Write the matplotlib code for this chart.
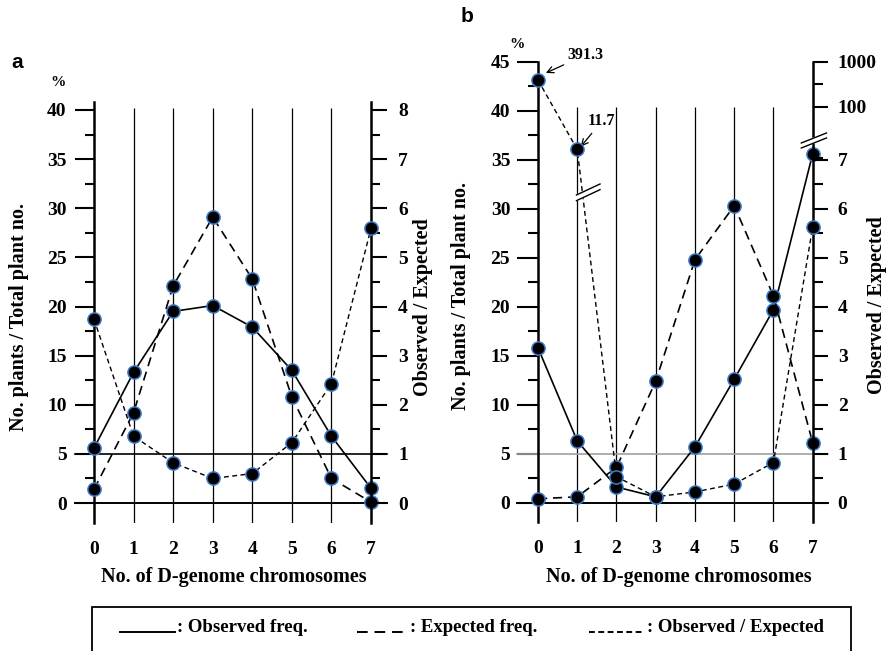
import numpy as np
import matplotlib
matplotlib.use('Agg')
import matplotlib.pyplot as plt
from matplotlib.ticker import MultipleLocator, FixedLocator, NullFormatter
from matplotlib.lines import Line2D
from matplotlib.patches import Rectangle

plt.rcParams['font.family'] = ['Liberation Serif', 'DejaVu Serif']
plt.rcParams['font.weight'] = 'bold'
plt.rcParams['axes.labelweight'] = 'bold'

W, H = 892, 651
chromosomes = [0, 1, 2, 3, 4, 5, 6, 7]

# panel a : % of plants and observed / expected ratio
obs_a = [5.6, 13.3, 19.5, 20.1, 17.9, 13.5, 6.8, 1.5]
exp_a = [1.4, 9.2, 22.1, 29.1, 22.8, 10.8, 2.5, 0.1]
ratio_a = [3.74, 1.36, 0.82, 0.50, 0.60, 1.23, 2.43, 5.59]

# panel b
obs_b = [15.8, 6.3, 1.6, 0.6, 5.7, 12.6, 19.7, 35.6]
exp_b = [0.4, 0.6, 3.6, 12.4, 24.8, 30.3, 21.1, 6.1]
ratio_b = [391.3, 11.7, 0.53, 0.12, 0.22, 0.38, 0.82, 5.63]

ratio_ticks_a = [0, 1, 2, 3, 4, 5, 6, 7, 8]
ratio_ticks_b = [0, 1, 2, 3, 4, 5, 6, 7, 100, 1000]


def box(left, top, right, bottom):
    return [left / W, 1 - bottom / H, (right - left) / W, (bottom - top) / H]


def fxy(x, y):
    return x / W, 1 - y / H


# panel a: ratio axis is the % axis divided by 5
def ratio_to_pct_a(v):
    return np.asarray(v, dtype=float) * 5


def pct_to_ratio_a(p):
    return np.asarray(p, dtype=float) / 5


# broken right axis of panel b: linear up to 7, squeezed to 100, log above
def ratio_to_pct(v):
    v = np.asarray(v, dtype=float)
    lo = 5 * v
    mid = 35 + 5.4 * np.log10(np.clip(v, 7, 100) / 7) / np.log10(100 / 7)
    hi = 40.4 + 4.6 * np.log10(np.clip(v, 100, None) / 100)
    return np.where(v <= 7, lo, np.where(v <= 100, mid, hi))


def pct_to_ratio(p):
    p = np.asarray(p, dtype=float)
    lo = p / 5
    mid = 7 * (100 / 7) ** ((np.clip(p, 35, 40.4) - 35) / 5.4)
    hi = 100 * 10 ** ((np.clip(p, 40.4, None) - 40.4) / 4.6)
    return np.where(p <= 35, lo, np.where(p <= 40.4, mid, hi))


mk = dict(marker='o', ms=9.5, mfc='black', mec='#3d7cc9', mew=1.1,
          color='black', clip_on=False, zorder=4)

fig = plt.figure(figsize=(W / 100, H / 100), dpi=100)


def style_panel(ax, ylim, vtop, major_len, minor_len, pad):
    ax.set_xlim(0, 7)
    ax.set_ylim(*ylim)
    for side in ('top', 'bottom', 'right'):
        ax.spines[side].set_visible(False)
    ax.spines['left'].set_linewidth(1.8)
    ax.set_xticks(chromosomes)
    ax.tick_params(axis='x', length=0, pad=13, labelsize=14)
    ax.yaxis.set_major_locator(MultipleLocator(5))
    ax.yaxis.set_minor_locator(MultipleLocator(2.5))
    ax.tick_params(axis='y', which='major', direction='out', length=major_len,
                   width=1.5, pad=pad, labelsize=14)
    ax.tick_params(axis='y', which='minor', direction='out', length=minor_len, width=1.5)
    ax.vlines(chromosomes[1:-1], ylim[0], vtop, color='black', lw=0.9)


def style_twin(ax2, major_len, minor_len, pad):
    for side in ('top', 'bottom', 'left'):
        ax2.spines[side].set_visible(False)
    ax2.spines['right'].set_linewidth(1.8)
    ax2.tick_params(axis='y', which='major', direction='out', length=major_len,
                    width=1.5, pad=pad, labelsize=14)
    ax2.tick_params(axis='y', which='minor', direction='out', length=minor_len, width=1.5)


def draw_break(ax2, trans, xc, yc, hw, rise, gap):
    xs = [xc - hw, xc + hw]
    lower = [yc - gap / 2 - rise, yc - gap / 2 + rise]
    upper = [yc + gap / 2 - rise, yc + gap / 2 + rise]
    ax2.fill([xs[0], xs[1], xs[1], xs[0]], [lower[0], lower[1], upper[1], upper[0]],
             color='white', transform=trans, zorder=6, clip_on=False)
    for ys in (lower, upper):
        ax2.plot(xs, ys, color='black', lw=1.0, transform=trans, zorder=7, clip_on=False)


# ---------------- panel a ----------------
ya = (-2.03, 40.81)
ax_a = fig.add_axes(box(94, 102, 371, 523))
style_panel(ax_a, ya, 40.15, 13.7, 6.5, 6)
ax_a.axhline(0, xmin=-19 / 277, xmax=1 + 16 / 277, color='black', lw=1.4, clip_on=False)
ax_a.axhline(5, xmin=-19 / 277, xmax=1 + 16 / 277, color='black', lw=1.2, clip_on=False)
ax_a.plot(chromosomes, obs_a, ls='-', lw=1.2, **mk)
ax_a.plot(chromosomes, exp_a, lw=1.2, dashes=(5.5, 3.5), **mk)

ax_a2 = ax_a.twinx()
ax_a2.set_yscale('function', functions=(ratio_to_pct_a, pct_to_ratio_a))
ax_a2.set_ylim(ya[0] / 5, ya[1] / 5)
style_twin(ax_a2, 11.5, 6.5, 8)
ax_a2.set_yticks(ratio_ticks_a, [str(t) for t in ratio_ticks_a], fontweight='bold')
ax_a2.yaxis.set_minor_locator(FixedLocator([0.5, 1.5, 2.5, 3.5, 4.5, 5.5, 6.5, 7.5]))
ax_a2.yaxis.set_minor_formatter(NullFormatter())
ax_a2.plot(chromosomes, ratio_a, lw=1.0, dashes=(3.5, 2.5), **mk)

ax_a.set_xlabel('No. of D-genome chromosomes', fontsize=14.5, va='center')
ax_a.xaxis.set_label_coords(*fxy(233.5, 577), transform=fig.transFigure)
ax_a.set_ylabel('No. plants / Total plant no.', fontsize=14.5, va='center')
ax_a.yaxis.set_label_coords(*fxy(19, 317), transform=fig.transFigure)
ax_a2.set_ylabel('Observed / Expected', fontsize=14.5, va='center')
ax_a2.yaxis.set_label_coords(*fxy(423, 307), transform=fig.transFigure)

# ---------------- panel b ----------------
yb = (-1.97, 45)
ax_b = fig.add_axes(box(538, 61.7, 812.7, 522))
style_panel(ax_b, yb, 40.4, 15, 7, 5)
ax_b.axhline(0, xmin=-21.3 / 274.7, xmax=1 + 15.3 / 274.7, color='black', lw=1.4, clip_on=False)
ax_b.axhline(5, xmin=-21.3 / 274.7, xmax=1 + 15.3 / 274.7, color='#a0a0a0', lw=1.2, clip_on=False)
ax_b.plot(chromosomes, obs_b, ls='-', lw=1.2, **mk)
ax_b.plot(chromosomes, exp_b, lw=1.2, dashes=(5.5, 3.5), **mk)

ax_b2 = ax_b.twinx()
ax_b2.set_yscale('function', functions=(ratio_to_pct, pct_to_ratio))
ax_b2.set_ylim(float(pct_to_ratio(yb[0])), 1000)
style_twin(ax_b2, 11, 7, 7)
ax_b2.set_yticks(ratio_ticks_b, [str(t) for t in ratio_ticks_b], fontweight='bold')
ax_b2.yaxis.set_minor_locator(FixedLocator([0.5, 1.5, 2.5, 3.5, 4.5, 5.5, 6.5, 7.5, 316]))
ax_b2.yaxis.set_minor_formatter(NullFormatter())
ax_b2.plot(chromosomes, ratio_b, lw=1.0, dashes=(3.5, 2.5), **mk)

draw_break(ax_b2, ax_b.transData, 7.03, 36.96, 0.32, 0.51, 0.51)
draw_break(ax_b2, ax_b.transData, 1.28, 31.67, 0.30, 0.56, 0.58)

arrow = dict(arrowstyle='->', lw=0.9, color='black', shrinkA=1, shrinkB=0)
ax_b.annotate('391.3', xy=(0.20, 43.85), xytext=(0.76, 45.7), ha='left', va='center',
              fontsize=11.5, arrowprops=arrow, annotation_clip=False)
ax_b.annotate('11.7', xy=(1.09, 36.33), xytext=(1.27, 38.9), ha='left', va='center',
              fontsize=11.5, arrowprops=arrow, annotation_clip=False, zorder=8)

ax_b.set_xlabel('No. of D-genome chromosomes', fontsize=14.5, va='center')
ax_b.xaxis.set_label_coords(*fxy(679, 577), transform=fig.transFigure)
ax_b.set_ylabel('No. plants / Total plant no.', fontsize=14.5, va='center')
ax_b.yaxis.set_label_coords(*fxy(461, 296), transform=fig.transFigure)
ax_b2.set_ylabel('Observed / Expected', fontsize=14.5, va='center')
ax_b2.yaxis.set_label_coords(*fxy(876.7, 305), transform=fig.transFigure)

# panel letters and % marks
fig.text(*fxy(17, 62), 'a', fontsize=15, family='Liberation Sans', ha='center', va='center')
fig.text(*fxy(466.7, 17), 'b', fontsize=15, family='Liberation Sans', ha='center', va='center')
fig.text(*fxy(57.7, 82), '%', fontsize=11, ha='center', va='center')
fig.text(*fxy(516.7, 44), '%', fontsize=11, ha='center', va='center')

# legend box along the bottom
fig.patches.append(Rectangle(fxy(92, 670), (851 - 92) / W, (670 - 607) / H,
                             transform=fig.transFigure, fill=False, lw=1.3,
                             edgecolor='black'))
legend_items = [
    (120, 175, dict(ls='-'), ': Observed freq.'),
    (357, 408, dict(dashes=(5.5, 3.5)), ': Expected freq.'),
    (589, 645, dict(dashes=(3.0, 1.8)), ': Observed / Expected'),
]
for x0, x1, style, label in legend_items:
    fig.add_artist(Line2D([x0 / W, x1 / W], [1 - 632 / H, 1 - 632 / H],
                          transform=fig.transFigure, color='black', lw=1.4, **style))
    fig.text(*fxy(x1 + 2, 628), label, fontsize=13.5, ha='left', va='center')

fig.savefig('out.png', dpi=100)
